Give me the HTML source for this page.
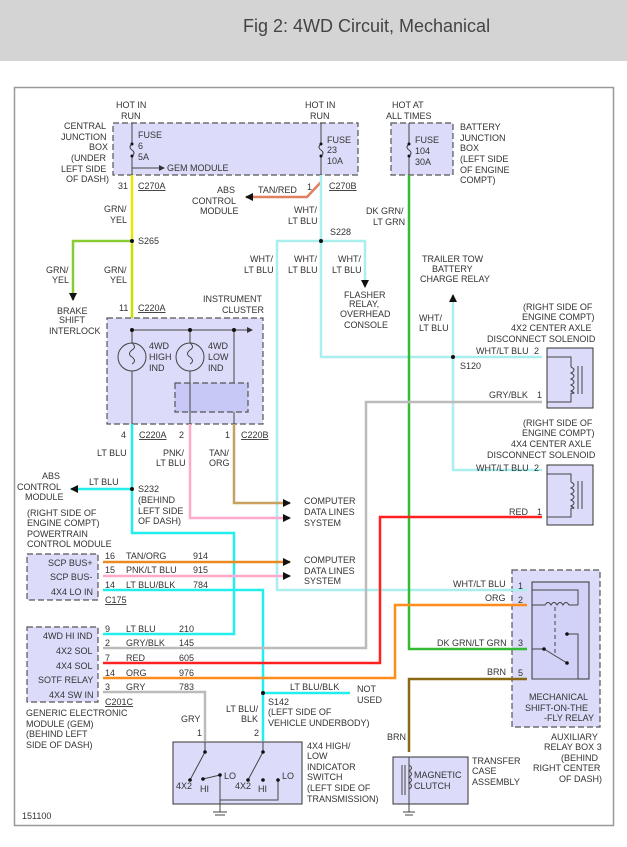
<!DOCTYPE html>
<html><head><meta charset="utf-8"><style>
html,body{margin:0;padding:0;background:#fff}
svg{display:block}
text{font-family:"Liberation Sans",sans-serif;font-size:9px;fill:#333}
.u{text-decoration:underline}
</style></head><body>
<svg width="627" height="847" viewBox="0 0 627 847" xmlns="http://www.w3.org/2000/svg">
<defs>
<marker id="ar" markerWidth="8" markerHeight="8" refX="7" refY="4" orient="auto" markerUnits="userSpaceOnUse"><path d="M0,0 L8,4 L0,8 z" fill="#111"/></marker>
<marker id="as" markerWidth="6" markerHeight="6" refX="5" refY="3" orient="auto" markerUnits="userSpaceOnUse"><path d="M0,0 L6,3 L0,6 z" fill="#333"/></marker>
</defs>
<rect x="0" y="0" width="627" height="61" fill="#d4d4d4"/>
<text x="243" y="32" style="font-size:18px;fill:#444">Fig 2: 4WD Circuit, Mechanical</text>
<rect x="14.5" y="87.5" width="599" height="738" fill="#fff" stroke="#999" stroke-width="1.5"/>

<g stroke="#555" stroke-dasharray="6,3" stroke-width="1.2" fill="#dcdcfa">
<rect x="113" y="123" width="245" height="52"/>
<rect x="391" y="123" width="62" height="52"/>
<rect x="107" y="318" width="156" height="106"/>
<rect x="175" y="383" width="73" height="29" fill="#c8c8f6"/>
<rect x="27" y="554" width="71" height="46"/>
<rect x="27" y="627" width="71" height="75"/>
<rect x="512" y="570" width="88" height="157"/>
</g>
<g stroke="#333" stroke-width="1" fill="#dcdcfa">
<rect x="547" y="348" width="46" height="60"/>
<rect x="547" y="465" width="46" height="60"/>
<rect x="173" y="742" width="129" height="62"/>
<rect x="393" y="757" width="75" height="47"/>
<rect x="532" y="582" width="57" height="97" fill="#d2d2f8"/>
</g>

<g fill="none" stroke-width="2.5">
<path d="M132,175 V241" stroke="#e6e600"/>
<path d="M132,241 V318" stroke="#c8e000"/>
<path d="M132,241 H73 V300" stroke="#88cc33" marker-end="url(#ar)"/>
<path d="M321,182 L307,197 H246" stroke="#e08060" marker-end="url(#ar)"/>
<path d="M321,175 V357 H542" stroke="#aaeeee"/>
<path d="M321,241 H277 V590 H527" stroke="#aaeeee"/>
<path d="M321,241 H365 V287" stroke="#aaeeee" marker-end="url(#ar)"/>
<path d="M453,357 V295" stroke="#aaeeee" marker-end="url(#ar)"/>
<path d="M453,357 V470 H542" stroke="#aaeeee"/>
<path d="M409,175 V649 H527" stroke="#33bb33"/>
<path d="M132,424 V533 H234 V634 H103" stroke="#22eeee"/>
<path d="M132,489 H71" stroke="#22eeee" marker-end="url(#ar)"/>
<path d="M190,424 V518 H290" stroke="#ffaacc" marker-end="url(#ar)"/>
<path d="M234,424 V503 H290" stroke="#c8a060" marker-end="url(#ar)"/>
<path d="M103,562 H290" stroke="#e88a20" marker-end="url(#ar)"/>
<path d="M103,576 H290" stroke="#ffaacc" marker-end="url(#ar)"/>
<path d="M103,590 H263 V741" stroke="#22eeee"/>
<path d="M263,693 H350" stroke="#22eeee"/>
<path d="M103,648 H366 V402 H542" stroke="#bbb"/>
<path d="M103,663 H380 V517 H542" stroke="#ff2020"/>
<path d="M103,678 H395 V605 H527" stroke="#ff8c1a"/>
<path d="M103,692 H205 V741" stroke="#bbb"/>
<path d="M527,679 H409 V752" stroke="#8b6914"/>
</g>

<g fill="none" stroke="#444" stroke-width="1">
<path d="M132,123 V144 M132,156 V175 M321,123 V144 M321,156 V175 M409,123 V144 M409,156 V175"/>
<path d="M132,144 q-4,3 0,6 q4,3 0,6 M321,144 q-4,3 0,6 q4,3 0,6 M409,144 q-4,3 0,6 q4,3 0,6"/>
<path d="M132,168 H164" marker-end="url(#as)"/>
<path d="M132,330 H252" marker-end="url(#as)"/>
<path d="M132,330 V424 M190,330 V424 M234,330 V383 M234,412 V424"/>
<circle cx="132" cy="357" r="14" fill="#dcdcfa"/>
<circle cx="190" cy="357" r="14" fill="#dcdcfa"/>
<path d="M132,343 q5,4 0,7 q-5,4 0,7 q5,4 0,7 M190,343 q5,4 0,7 q-5,4 0,7 q5,4 0,7"/>
<path d="M547,357 H571 V367 M571,393 V402 H547"/>
<path d="M571,367 q6,3 0,6 q6,3 0,6 q6,3 0,6 q6,3 0,6 q6,3 0,2 M578,366 V394 M582,366 V394"/>
<path d="M547,474 H571 V482 M571,508 V517 H547"/>
<path d="M571,482 q6,3 0,6 q6,3 0,6 q6,3 0,6 q6,3 0,6 q6,3 0,2 M578,481 V509 M582,481 V509"/>
<path d="M532,590 H578 V605 M532,605 H545 q3,-5 6,0 q3,-5 6,0 q3,-5 6,0 q3,-5 6,0 H578"/>
<path d="M555,607 V655" stroke-dasharray="4,3"/>
<path d="M532,649 H544 L567,663 M567,634 H578 V679 H532"/>
<path d="M409,757 V804 M402,765 V795 M405,765 V795 M409,765 q5,3 0,6 q5,3 0,6 q5,3 0,6 q5,3 0,6"/>
<path d="M409,804 V812 M403,812 H415 M405,815 H413"/>
<path d="M205,742 V752 L190,780 M263,742 V752 L248,780"/>
<path d="M203,779 L220,775 V800 M220,800 H278 V780 M220,800 V812 M213,812 H227 M215,815 H225"/>
</g>
<g fill="#111">
<circle cx="132" cy="241" r="2"/><circle cx="321" cy="241" r="2"/><circle cx="453" cy="357" r="2"/>
<circle cx="132" cy="489" r="2"/><circle cx="263" cy="693" r="2"/>
<circle cx="132" cy="330" r="2"/><circle cx="190" cy="330" r="2"/><circle cx="234" cy="330" r="2"/>
<circle cx="132" cy="144" r="1.5"/><circle cx="132" cy="156" r="1.5"/><circle cx="321" cy="144" r="1.5"/><circle cx="321" cy="156" r="1.5"/><circle cx="409" cy="144" r="1.5"/><circle cx="409" cy="156" r="1.5"/>
<circle cx="544" cy="649" r="1.8"/><circle cx="567" cy="663" r="1.8"/><circle cx="567" cy="634" r="1.8"/>
<circle cx="205" cy="752" r="1.8"/><circle cx="190" cy="780" r="1.8"/><circle cx="203" cy="779" r="1.8"/><circle cx="220" cy="775" r="1.8"/>
<circle cx="263" cy="752" r="1.8"/><circle cx="248" cy="780" r="1.8"/><circle cx="263" cy="780" r="1.8"/><circle cx="278" cy="780" r="1.8"/>
</g>

<text x="116" y="108">HOT IN</text><text x="121" y="119">RUN</text>
<text x="305" y="108">HOT IN</text><text x="310" y="119">RUN</text>
<text x="392" y="108">HOT AT</text><text x="386" y="119">ALL TIMES</text>
<text x="64" y="129">CENTRAL</text><text x="61" y="140">JUNCTION</text><text x="89" y="150">BOX</text><text x="71" y="161">(UNDER</text><text x="61" y="172">LEFT SIDE</text><text x="66" y="182">OF DASH)</text>
<text x="138" y="138">FUSE</text><text x="138" y="149">6</text><text x="138" y="160">5A</text><text x="167" y="171">GEM MODULE</text>
<text x="327" y="143">FUSE</text><text x="327" y="153">23</text><text x="327" y="164">10A</text>
<text x="415" y="143">FUSE</text><text x="415" y="154">104</text><text x="415" y="165">30A</text>
<text x="460" y="130">BATTERY</text><text x="460" y="141">JUNCTION</text><text x="460" y="151">BOX</text><text x="460" y="162">(LEFT SIDE</text><text x="460" y="173">OF ENGINE</text><text x="460" y="183">COMPT)</text>
<text x="118" y="189">31</text><text class="u" x="138" y="189">C270A</text>
<text x="307" y="190">1</text><text class="u" x="329" y="189">C270B</text>
<text x="217" y="193">ABS</text><text x="192" y="204">CONTROL</text><text x="200" y="214">MODULE</text>
<text x="258" y="193">TAN/RED</text>
<text x="104" y="212">GRN/</text><text x="110" y="223">YEL</text>
<text x="294" y="213">WHT/</text><text x="288" y="224">LT BLU</text>
<text x="366" y="214">DK GRN/</text><text x="373" y="225">LT GRN</text>
<text x="138" y="244">S265</text><text x="330" y="235">S228</text>
<text x="46" y="273">GRN/</text><text x="52" y="283">YEL</text>
<text x="104" y="273">GRN/</text><text x="110" y="283">YEL</text>
<text x="250" y="262">WHT/</text><text x="244" y="273">LT BLU</text>
<text x="294" y="262">WHT/</text><text x="288" y="273">LT BLU</text>
<text x="338" y="262">WHT/</text><text x="332" y="273">LT BLU</text>
<text x="422" y="262">TRAILER TOW</text><text x="432" y="272">BATTERY</text><text x="420" y="282">CHARGE RELAY</text>
<text x="344" y="298">FLASHER</text><text x="349" y="307">RELAY,</text><text x="340" y="317">OVERHEAD</text><text x="344" y="328">CONSOLE</text>
<text x="57" y="314">BRAKE</text><text x="59" y="323">SHIFT</text><text x="49" y="334">INTERLOCK</text>
<text x="119" y="311">11</text><text class="u" x="138" y="311">C220A</text>
<text x="203" y="302">INSTRUMENT</text><text x="222" y="313">CLUSTER</text>
<text x="149" y="349">4WD</text><text x="149" y="360">HIGH</text><text x="149" y="371">IND</text>
<text x="208" y="349">4WD</text><text x="208" y="360">LOW</text><text x="208" y="371">IND</text>
<text x="523" y="310">(RIGHT SIDE OF</text><text x="522" y="320">ENGINE COMPT)</text><text x="511" y="331">4X2 CENTER AXLE</text><text x="487" y="342">DISCONNECT SOLENOID</text>
<text x="419" y="321">WHT/</text><text x="419" y="331">LT BLU</text>
<text x="476" y="354">WHT/LT BLU</text><text x="534" y="354">2</text>
<text x="460" y="369">S120</text>
<text x="489" y="398">GRY/BLK</text><text x="537" y="398">1</text>
<text x="523" y="426">(RIGHT SIDE OF</text><text x="522" y="436">ENGINE COMPT)</text><text x="511" y="447">4X4 CENTER AXLE</text><text x="487" y="458">DISCONNECT SOLENOID</text>
<text x="476" y="471">WHT/LT BLU</text><text x="534" y="471">2</text>
<text x="509" y="515">RED</text><text x="537" y="515">1</text>
<text x="121" y="438">4</text><text class="u" x="139" y="438">C220A</text>
<text x="179" y="438">2</text><text x="225" y="438">1</text><text class="u" x="241" y="438">C220B</text>
<text x="97" y="456">LT BLU</text><text x="163" y="456">PNK/</text><text x="156" y="466">LT BLU</text><text x="209" y="456">TAN/</text><text x="209" y="466">ORG</text>
<text x="42" y="479">ABS</text><text x="17" y="490">CONTROL</text><text x="25" y="500">MODULE</text>
<text x="89" y="485">LT BLU</text>
<text x="138" y="492">S232</text><text x="138" y="503">(BEHIND</text><text x="138" y="514">LEFT SIDE</text><text x="138" y="524">OF DASH)</text>
<text x="304" y="504">COMPUTER</text><text x="304" y="515">DATA LINES</text><text x="304" y="526">SYSTEM</text>
<text x="27" y="516">(RIGHT SIDE OF</text><text x="27" y="526">ENGINE COMPT)</text><text x="27" y="537">POWERTRAIN</text><text x="27" y="547">CONTROL MODULE</text>
<text x="48" y="566">SCP BUS+</text><text x="50" y="580">SCP BUS-</text><text x="51" y="595">4X4 LO IN</text>
<text x="105" y="559">16</text><text x="126" y="559">TAN/ORG</text><text x="193" y="559">914</text>
<text x="105" y="573">15</text><text x="126" y="573">PNK/LT BLU</text><text x="193" y="573">915</text>
<text x="105" y="588">14</text><text x="126" y="588">LT BLU/BLK</text><text x="193" y="588">784</text>
<text class="u" x="105" y="603">C175</text>
<text x="304" y="563">COMPUTER</text><text x="304" y="574">DATA LINES</text><text x="304" y="584">SYSTEM</text>
<text x="43" y="639">4WD HI IND</text><text x="56" y="654">4X2 SOL</text><text x="56" y="669">4X4 SOL</text><text x="38" y="683">SOTF RELAY</text><text x="49" y="698">4X4 SW IN</text>
<text x="105" y="632">9</text><text x="126" y="632">LT BLU</text><text x="179" y="632">210</text>
<text x="105" y="646">2</text><text x="126" y="646">GRY/BLK</text><text x="179" y="646">145</text>
<text x="105" y="661">7</text><text x="126" y="661">RED</text><text x="179" y="661">605</text>
<text x="105" y="676">14</text><text x="126" y="676">ORG</text><text x="179" y="676">976</text>
<text x="105" y="690">3</text><text x="126" y="690">GRY</text><text x="179" y="690">783</text>
<text class="u" x="105" y="705">C201C</text>
<text x="453" y="587">WHT/LT BLU</text><text x="485" y="601">ORG</text><text x="437" y="646">DK GRN/LT GRN</text><text x="487" y="675">BRN</text>
<text x="518" y="589">1</text><text x="518" y="603">2</text><text x="518" y="646">3</text><text x="518" y="676">5</text>
<text x="290" y="690">LT BLU/BLK</text><text x="357" y="692">NOT</text><text x="357" y="703">USED</text>
<text x="268" y="705">S142</text><text x="268" y="715">(LEFT SIDE OF</text><text x="268" y="726">VEHICLE UNDERBODY)</text>
<text x="26" y="716">GENERIC ELECTRONIC</text><text x="26" y="727">MODULE (GEM)</text><text x="26" y="737">(BEHIND LEFT</text><text x="26" y="748">SIDE OF DASH)</text>
<text x="181" y="722">GRY</text><text x="226" y="712">LT BLU/</text><text x="241" y="722">BLK</text>
<text x="197" y="736">1</text><text x="254" y="736">2</text>
<text x="529" y="700">MECHANICAL</text><text x="525" y="711">SHIFT-ON-THE</text><text x="544" y="721">-FLY RELAY</text>
<text x="551" y="740">AUXILIARY</text><text x="544" y="750">RELAY BOX 3</text><text x="561" y="761">(BEHIND</text><text x="533" y="771">RIGHT CENTER</text><text x="559" y="782">OF DASH)</text>
<text x="387" y="740">BRN</text>
<text x="414" y="778">MAGNETIC</text><text x="414" y="789">CLUTCH</text>
<text x="472" y="764">TRANSFER</text><text x="472" y="774">CASE</text><text x="472" y="785">ASSEMBLY</text>
<text x="307" y="749">4X4 HIGH/</text><text x="307" y="759">LOW</text><text x="307" y="770">INDICATOR</text><text x="307" y="780">SWITCH</text><text x="307" y="791">(LEFT SIDE OF</text><text x="307" y="802">TRANSMISSION)</text>
<text x="176" y="789">4X2</text><text x="200" y="792">HI</text><text x="224" y="779">LO</text>
<text x="235" y="789">4X2</text><text x="258" y="792">HI</text><text x="282" y="779">LO</text>
<text x="22" y="819">151100</text>
</svg>
</body></html>
